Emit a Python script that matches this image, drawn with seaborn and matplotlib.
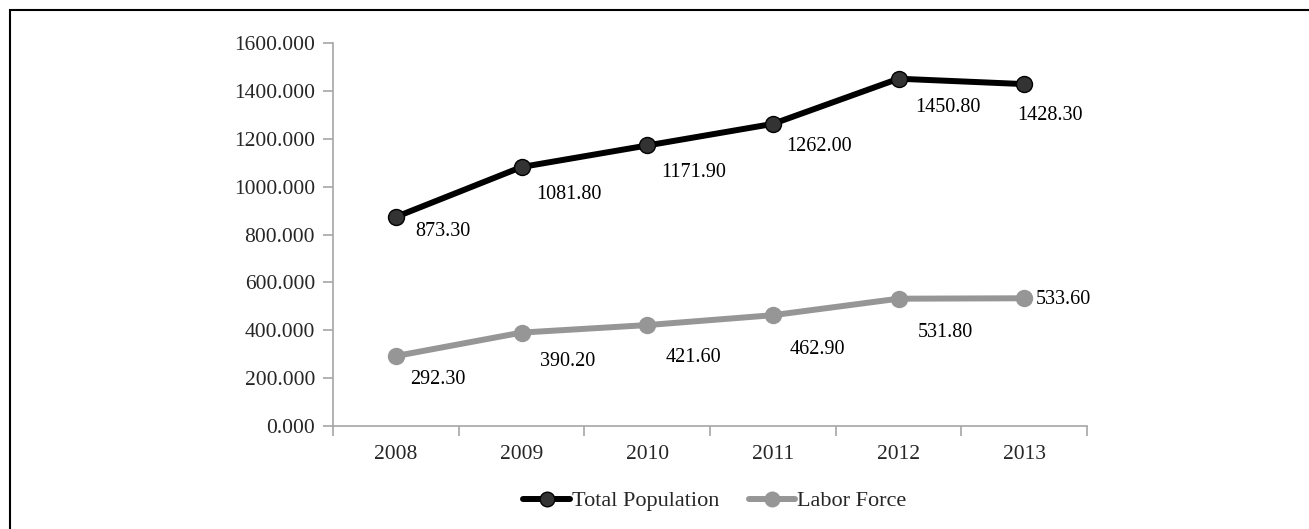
import matplotlib
matplotlib.use("Agg")
import matplotlib.pyplot as plt
import seaborn as sns
import pandas as pd
from matplotlib.patches import Rectangle
from matplotlib.lines import Line2D

years = ["2008", "2009", "2010", "2011", "2012", "2013"]
total_population = [873.30, 1081.80, 1171.90, 1262.00, 1450.80, 1428.30]
labor_force = [292.30, 390.20, 421.60, 462.90, 531.80, 533.60]
series_names = ["Total Population", "Labor Force"]
y_ticks = [0, 200, 400, 600, 800, 1000, 1200, 1400, 1600]

# label offsets in pixels (dx, dy downward) for each value label
total_offsets = [(47, 15), (47, 27), (46, 27), (46, 23), (49, 29), (26, 31)]
labor_offsets = [(42, 23), (46, 29), (46, 32), (45, 34), (47, 34), (39, 1)]

sns.set_theme(style="white")
plt.rcParams["font.family"] = ["Liberation Serif", "DejaVu Serif"]

df = pd.DataFrame({
    "pos": list(range(len(years))) * 2,
    "value": total_population + labor_force,
    "series": [series_names[0]] * len(years) + [series_names[1]] * len(years),
})
df["x"] = df["pos"] + 0.5

dpi = 100
fig = plt.figure(figsize=(13.09, 5.29), dpi=dpi)
ax = fig.add_axes([333 / 1309, 1 - 426 / 529, (1087 - 333) / 1309, (426 - 43) / 529])

colors = {series_names[0]: "#000000", series_names[1]: "#969696"}
face = {series_names[0]: "#333333", series_names[1]: "#969696"}

for name in series_names:
    sub = df[df["series"] == name]
    sns.lineplot(data=sub, x="x", y="value", ax=ax, color=colors[name], lw=4.3,
                 marker="o", markersize=11.5, markerfacecolor=face[name],
                 markeredgecolor=colors[name], markeredgewidth=1.0,
                 legend=False, zorder=3)

ax.set_xlim(0, len(years))
ax.set_ylim(0, 1600)
ax.set_yticks(y_ticks)
ax.set_yticklabels([f"{v:.3f}" for v in y_ticks])
ax.set_xticks([i + 0.5 for i in range(len(years))])
ax.set_xticklabels(years)
ax.set_xticks(range(len(years) + 1), minor=True)
ax.set_xlabel("")
ax.set_ylabel("")

for s in ["top", "right"]:
    ax.spines[s].set_visible(False)
for s in ["left", "bottom"]:
    ax.spines[s].set_color("#a6a6a6")
    ax.spines[s].set_linewidth(1.2)

ax.tick_params(axis="y", which="major", direction="out", length=7, width=1.2,
               color="#a6a6a6", labelsize=15.5, pad=6, left=True)
ax.tick_params(axis="x", which="major", length=0, labelsize=15.5, pad=14, bottom=True)
ax.tick_params(axis="x", which="minor", direction="out", length=7, width=1.2,
               color="#a6a6a6", bottom=True)

px = 72 / dpi
for vals, offs in ((total_population, total_offsets), (labor_force, labor_offsets)):
    for i, (v, (dx, dy)) in enumerate(zip(vals, offs)):
        ax.annotate(f"{v:.2f}", xy=(i + 0.5, v), xytext=(dx * px, -dy * px),
                    textcoords="offset points", ha="center", va="center",
                    fontsize=14.5, color="#000000")

handles = [
    Line2D([], [], color=colors[n], lw=4.3, marker="o", markersize=10.5,
           markerfacecolor=face[n], markeredgecolor=colors[n], markeredgewidth=1.0)
    for n in series_names
]
fig.legend(handles, series_names, loc="center", bbox_to_anchor=(715 / 1309, 1 - 501 / 529),
           ncol=2, frameon=False, fontsize=16, handlelength=2.1,
           handletextpad=0.1, columnspacing=1.3)

fig.patches.append(Rectangle((10 / 1309, -0.05), 1.2, 1 - 10 / 529 + 0.05,
                             transform=fig.transFigure, fill=False,
                             edgecolor="#000000", lw=1.5))

fig.savefig("out.png", dpi=dpi)
